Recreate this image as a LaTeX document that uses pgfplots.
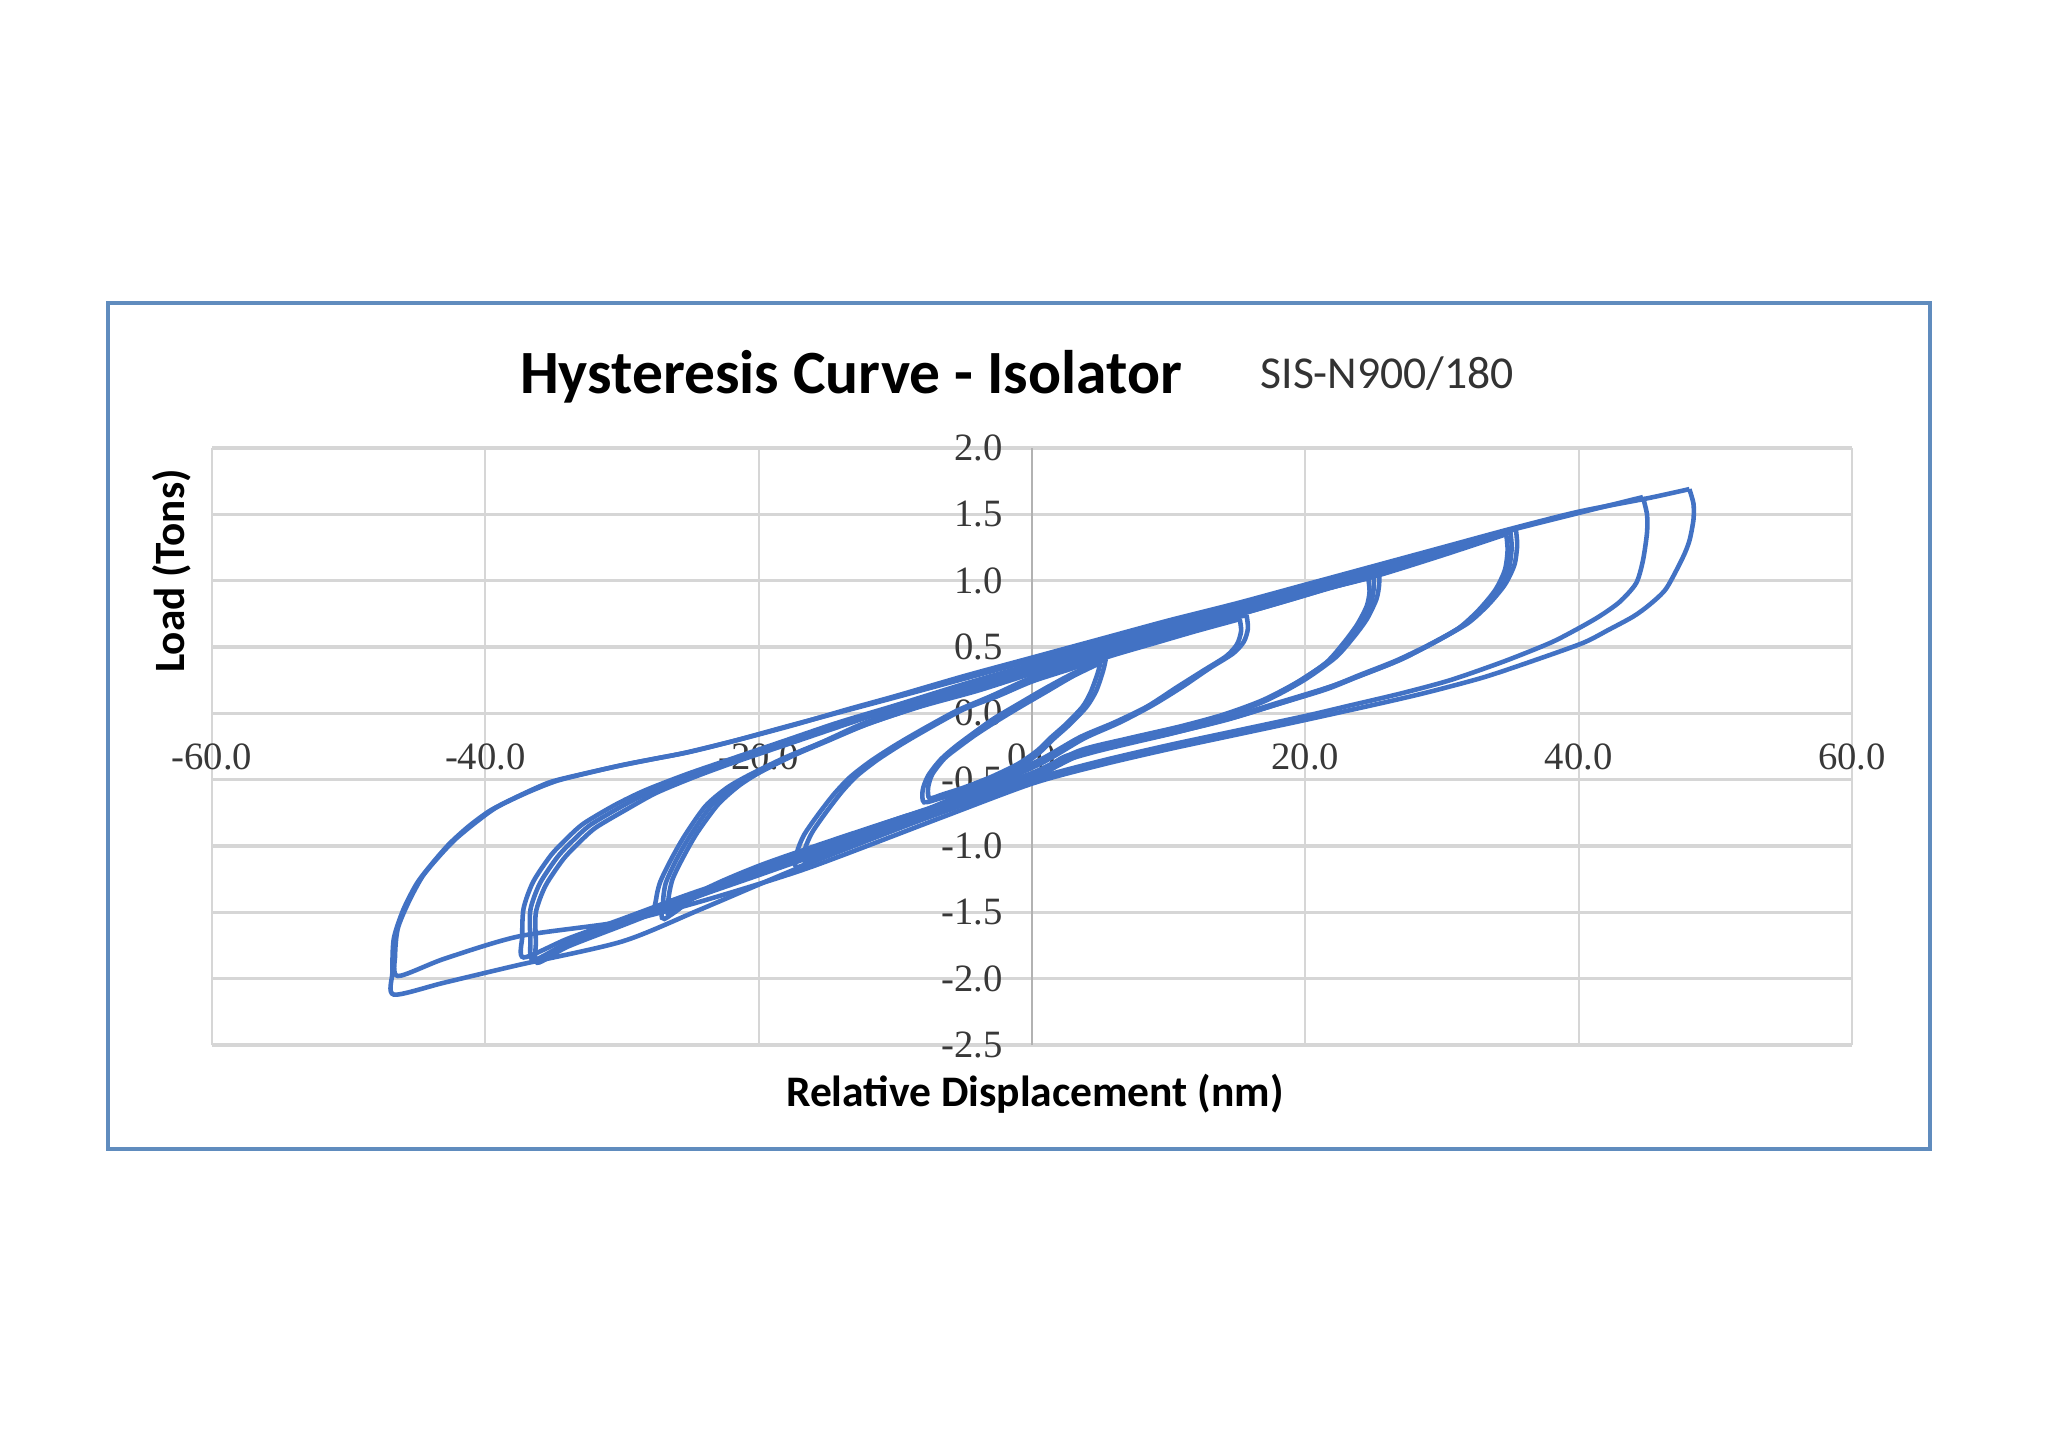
\documentclass[border=0pt]{standalone}
\usepackage{fontspec}
\setmainfont{Carlito}
\newfontfamily\tickfont{Liberation Serif}
\usepackage{pgfplots}
\pgfplotsset{compat=1.18}
\definecolor{curve}{RGB}{66,114,196}
\definecolor{framec}{RGB}{96,140,190}
\definecolor{gridc}{RGB}{214,214,214}

\begin{document}
\begin{tikzpicture}
\useasboundingbox (0,0) rectangle (20.48,14.48);
\fill[white] (0,0) rectangle (20.48,14.48);
\draw[framec, line width=0.9pt] (1.08,2.99) rectangle (19.30,11.45);

\begin{axis}[
  at={(2.12cm,4.03cm)}, anchor=south west,
  scale only axis, width=16.40cm, height=5.97cm,
  xmin=-60, xmax=60, ymin=-2.5, ymax=2.0,
  axis lines=middle,
  every inner x axis line/.append style={-},
  every inner y axis line/.append style={-},
  x axis line style={draw=gridc, line width=0.9pt},
  y axis line style={draw=gray!60, line width=0.5pt},
  xtick={-60,-40,-20,0,20,40,60},
  xticklabels={-60.0,-40.0,-20.0,0.0,20.0,40.0,60.0},
  ytick={-2.5,-2,-1.5,-1,-0.5,0,0.5,1,1.5,2},
  yticklabels={-2.5,-2.0,-1.5,-1.0,-0.5,0.0,0.5,1.0,1.5,2.0},
  major tick length=0pt,
  grid=major,
  x grid style={draw=gridc, line width=0.5pt},
  y grid style={draw=gridc, line width=0.9pt},
  tick label style={font=\tickfont\fontsize{11}{12}\selectfont, text=black!78},
  xticklabel style={anchor=north, yshift=-0.18cm},
  yticklabel style={anchor=east, xshift=-0.17cm},
  clip=false,
  hc/.style={draw=curve, line width=1.3pt, smooth, tension=0.45, mark=none},
]
% the origin labels, which the middle axis lines leave out
\node[anchor=north, yshift=-0.18cm, font=\tickfont\fontsize{11}{12}\selectfont, text=black!78] at (axis cs:0,0) {0.0};
\node[anchor=east, xshift=-0.17cm, font=\tickfont\fontsize{11}{12}\selectfont, text=black!78] at (axis cs:0,0) {0.0};
% loop 1
\addplot[hc] coordinates {(5.0,0.38) (4.8,0.30) (4.3,0.16) (3.7,0.05) (2.5,-0.08) (1.3,-0.19) (0.4,-0.28) (-1,-0.38) (-3,-0.48) (-5,-0.56) (-6.5,-0.61) (-7.5,-0.64) (-7.6,-0.56) (-7.3,-0.46) (-6.4,-0.34) (-5.3,-0.25) (-4.1,-0.16) (-2.6,-0.06) (-1,0.04) (1,0.16) (3,0.28) (5.0,0.38)};
\addplot[hc] coordinates {(5.4,0.41) (5.2,0.32) (4.7,0.17) (4.0,0.05) (2.8,-0.08) (1.5,-0.2) (0.5,-0.3) (-1,-0.41) (-3,-0.51) (-5,-0.59) (-6.7,-0.64) (-7.9,-0.67) (-8.0,-0.58) (-7.6,-0.47) (-6.7,-0.35) (-5.6,-0.25) (-4.3,-0.15) (-2.8,-0.04) (-1,0.07) (1,0.19) (3,0.3) (5.4,0.41)};
% loop 2
\addplot[hc] coordinates {(15.2,0.71) (15.3,0.62) (15.0,0.52) (14.2,0.43) (12.5,0.32) (10.5,0.19) (8.4,0.05) (6,-0.07) (3.5,-0.18) (0.6,-0.35) (-3,-0.52) (-6,-0.65) (-9,-0.78) (-12,-0.9) (-15,-1.02) (-16.6,-1.12) (-16.6,-1.02) (-16.1,-0.9) (-15.1,-0.75) (-13.9,-0.59) (-12.8,-0.47) (-11.3,-0.35) (-9.5,-0.23) (-7.5,-0.11) (-5,0.03) (-2.5,0.13) (0,0.24) (3,0.34) (6,0.44) (9,0.53) (12,0.62) (15.2,0.71)};
\addplot[hc] coordinates {(15.7,0.74) (15.8,0.64) (15.5,0.54) (14.7,0.45) (13,0.34) (11,0.2) (8.8,0.06) (6.4,-0.07) (3.8,-0.19) (0.8,-0.37) (-3,-0.55) (-6,-0.68) (-9,-0.81) (-12,-0.94) (-15,-1.06) (-17.2,-1.16) (-17.2,-1.05) (-16.7,-0.92) (-15.7,-0.77) (-14.5,-0.61) (-13.3,-0.48) (-11.8,-0.36) (-10,-0.24) (-8,-0.12) (-5.5,0.02) (-3,0.13) (0,0.27) (3,0.37) (6,0.47) (9,0.56) (12,0.65) (15.7,0.74)};
% loop 3
\addplot[hc] coordinates {(25.0,1.04) (25.0,0.94) (24.8,0.83) (24.1,0.69) (23.1,0.55) (21.8,0.40) (19.5,0.24) (16.9,0.1) (14,-0.01) (10.8,-0.1) (7,-0.19) (3.5,-0.28) (0,-0.45) (-5,-0.63) (-10,-0.8) (-15,-0.98) (-20,-1.17) (-24,-1.34) (-26.5,-1.52) (-26.6,-1.4) (-26.3,-1.25) (-25.5,-1.08) (-24.5,-0.9) (-23,-0.69) (-21.5,-0.55) (-20,-0.45) (-17.5,-0.32) (-15,-0.21) (-12,-0.08) (-8,0.06) (-4,0.18) (0,0.31) (5,0.46) (10,0.6) (15,0.74) (20,0.89) (25.0,1.04)};
\addplot[hc] coordinates {(25.4,1.07) (25.4,0.97) (25.2,0.86) (24.5,0.71) (23.5,0.57) (22.2,0.42) (19.9,0.25) (17.2,0.1) (14.2,-0.02) (11,-0.12) (7.2,-0.21) (3.6,-0.31) (0,-0.49) (-5,-0.67) (-10,-0.84) (-15,-1.02) (-20,-1.2) (-24,-1.36) (-27.4,-1.5) (-27.5,-1.4) (-27.2,-1.27) (-26.4,-1.1) (-25.4,-0.92) (-23.9,-0.7) (-22.3,-0.56) (-20.6,-0.46) (-18,-0.33) (-15.4,-0.22) (-12.3,-0.09) (-8.2,0.05) (-4,0.17) (0,0.3) (5,0.45) (10,0.59) (15,0.74) (20,0.89) (25.4,1.07)};
\addplot[hc] coordinates {(24.6,1.02) (24.7,0.92) (24.5,0.81) (23.8,0.67) (22.8,0.53) (21.5,0.38) (19.2,0.22) (16.6,0.08) (13.8,-0.02) (10.6,-0.11) (6.8,-0.2) (3.4,-0.3) (0,-0.47) (-5,-0.64) (-10,-0.8) (-15,-0.97) (-20,-1.15) (-24,-1.33) (-26.9,-1.55) (-27,-1.43) (-26.8,-1.28) (-26,-1.1) (-25,-0.92) (-23.5,-0.7) (-22,-0.56) (-20.3,-0.46) (-17.8,-0.33) (-15.2,-0.21) (-12.2,-0.07) (-8.1,0.08) (-4,0.21) (0,0.34) (5,0.49) (10,0.62) (15,0.76) (20,0.9) (24.6,1.02)};
% loop 4
\addplot[hc] coordinates {(35,1.37) (35.1,1.25) (34.9,1.1) (34.2,0.95) (33,0.8) (31.5,0.66) (29.3,0.53) (26.7,0.40) (24,0.29) (21.8,0.2) (18,0.08) (14.5,-0.03) (10,-0.14) (7.2,-0.2) (4.5,-0.27) (2.3,-0.33) (0,-0.48) (-5,-0.66) (-10,-0.85) (-15,-1.02) (-20,-1.2) (-25,-1.38) (-30,-1.57) (-34,-1.73) (-36.5,-1.86) (-36.7,-1.7) (-36.7,-1.48) (-36.0,-1.28) (-34.7,-1.08) (-33.5,-0.95) (-32.3,-0.84) (-30,-0.7) (-27.9,-0.59) (-25,-0.47) (-22,-0.36) (-18,-0.22) (-14,-0.08) (-10,0.05) (-5,0.2) (0,0.36) (5,0.5) (10,0.64) (15,0.78) (20,0.92) (25,1.05) (30,1.2) (35,1.37)};
\addplot[hc] coordinates {(35.4,1.39) (35.5,1.27) (35.3,1.12) (34.6,0.97) (33.4,0.82) (31.9,0.68) (29.7,0.55) (27.1,0.41) (24.4,0.3) (22.1,0.21) (18.3,0.08) (14.8,-0.03) (10.3,-0.15) (7.4,-0.22) (4.6,-0.29) (2.4,-0.36) (0,-0.5) (-5,-0.67) (-10,-0.84) (-15,-1.01) (-20,-1.19) (-25,-1.36) (-30,-1.55) (-34,-1.7) (-37.2,-1.84) (-37.3,-1.68) (-37.2,-1.47) (-36.5,-1.27) (-35.2,-1.07) (-34,-0.94) (-32.8,-0.83) (-30.5,-0.69) (-28.3,-0.58) (-25.3,-0.46) (-22.2,-0.35) (-18.2,-0.21) (-14.2,-0.07) (-10,0.06) (-5,0.22) (0,0.37) (5,0.52) (10,0.66) (15,0.8) (20,0.94) (25,1.08) (30,1.23) (35.4,1.39)};
\addplot[hc] coordinates {(34.7,1.35) (34.8,1.23) (34.6,1.08) (33.9,0.93) (32.7,0.78) (31.2,0.64) (29,0.51) (26.4,0.38) (23.7,0.27) (21.5,0.18) (17.7,0.06) (14.2,-0.05) (9.8,-0.16) (7,-0.22) (4.3,-0.29) (2.2,-0.36) (0,-0.52) (-5,-0.69) (-10,-0.87) (-15,-1.04) (-20,-1.22) (-25,-1.4) (-30,-1.6) (-34,-1.76) (-36.2,-1.88) (-36.3,-1.72) (-36.3,-1.5) (-35.6,-1.3) (-34.3,-1.1) (-33.1,-0.97) (-31.9,-0.86) (-29.6,-0.72) (-27.5,-0.6) (-24.7,-0.48) (-21.8,-0.37) (-17.8,-0.23) (-13.8,-0.09) (-10,0.04) (-5,0.19) (0,0.34) (5,0.48) (10,0.62) (15,0.76) (20,0.9) (25,1.03) (30,1.19) (34.7,1.35)};
% loop 5
\addplot[hc] coordinates {(44.7,1.63) (45,1.5) (45,1.36) (44.7,1.15) (44.2,0.98) (43,0.84) (41.5,0.73) (39.8,0.63) (37.9,0.53) (34.5,0.39) (30.6,0.25) (27,0.15) (23.3,0.06) (20,-0.02) (15,-0.13) (10,-0.24) (5,-0.36) (0,-0.5) (-7,-0.76) (-16.5,-1.14) (-24.3,-1.48) (-30,-1.72) (-37.7,-1.9) (-43,-2.03) (-46.7,-2.12) (-46.8,-1.95) (-46.7,-1.7) (-46.0,-1.48) (-45,-1.28) (-43.8,-1.12) (-42.6,-0.98) (-41.2,-0.85) (-39.6,-0.73) (-37.5,-0.62) (-35.3,-0.52) (-33,-0.46) (-30.4,-0.4) (-28,-0.35) (-25.5,-0.3) (-21.9,-0.21) (-18,-0.1) (-14,0.01) (-10,0.12) (-5,0.26) (0,0.4) (5,0.54) (10,0.68) (15,0.82) (20,0.96) (25,1.1) (30,1.24) (35,1.38) (40,1.51) (44.7,1.63)};
\addplot[hc] coordinates {(48.1,1.69) (48.4,1.58) (48.4,1.46) (48.1,1.3) (47.6,1.17) (46.4,0.94) (45.2,0.82) (44,0.73) (42.2,0.63) (40.3,0.53) (36.5,0.39) (33,0.27) (29,0.16) (25.7,0.08) (20,-0.05) (15,-0.16) (10,-0.27) (5,-0.39) (0,-0.53) (-7,-0.8) (-16.5,-1.17) (-24.3,-1.42) (-30,-1.57) (-37.5,-1.68) (-43,-1.85) (-46.4,-1.98) (-46.6,-1.82) (-46.4,-1.62) (-45.6,-1.42) (-44.6,-1.23) (-43.4,-1.08) (-42.2,-0.95) (-40.8,-0.83) (-39.2,-0.71) (-37,-0.6) (-34.8,-0.51) (-32.5,-0.45) (-30,-0.39) (-27.5,-0.34) (-25,-0.29) (-21.5,-0.2) (-17.5,-0.09) (-13.5,0.03) (-10,0.13) (-5,0.28) (0,0.42) (5,0.56) (10,0.7) (15,0.83) (20,0.97) (25,1.11) (30,1.25) (35,1.39) (40,1.52) (45,1.62) (48.1,1.69)};
\end{axis}

\node[anchor=base, font=\bfseries\fontsize{17.5}{20}\selectfont] at (8.51,10.54) {Hysteresis Curve - Isolator};
\node[anchor=base west, inner sep=0pt, font=\fontsize{13}{15}\selectfont, text=black!80] at (12.60,10.59) {SIS-N900/180};
\node[anchor=base, font=\bfseries\fontsize{12.4}{14}\selectfont] at (10.35,3.41) {Relative Displacement (nm)};
\node[anchor=base, rotate=90, font=\bfseries\fontsize{12.3}{14}\selectfont] at (1.84,8.77) {Load (Tons)};
\end{tikzpicture}
\end{document}
